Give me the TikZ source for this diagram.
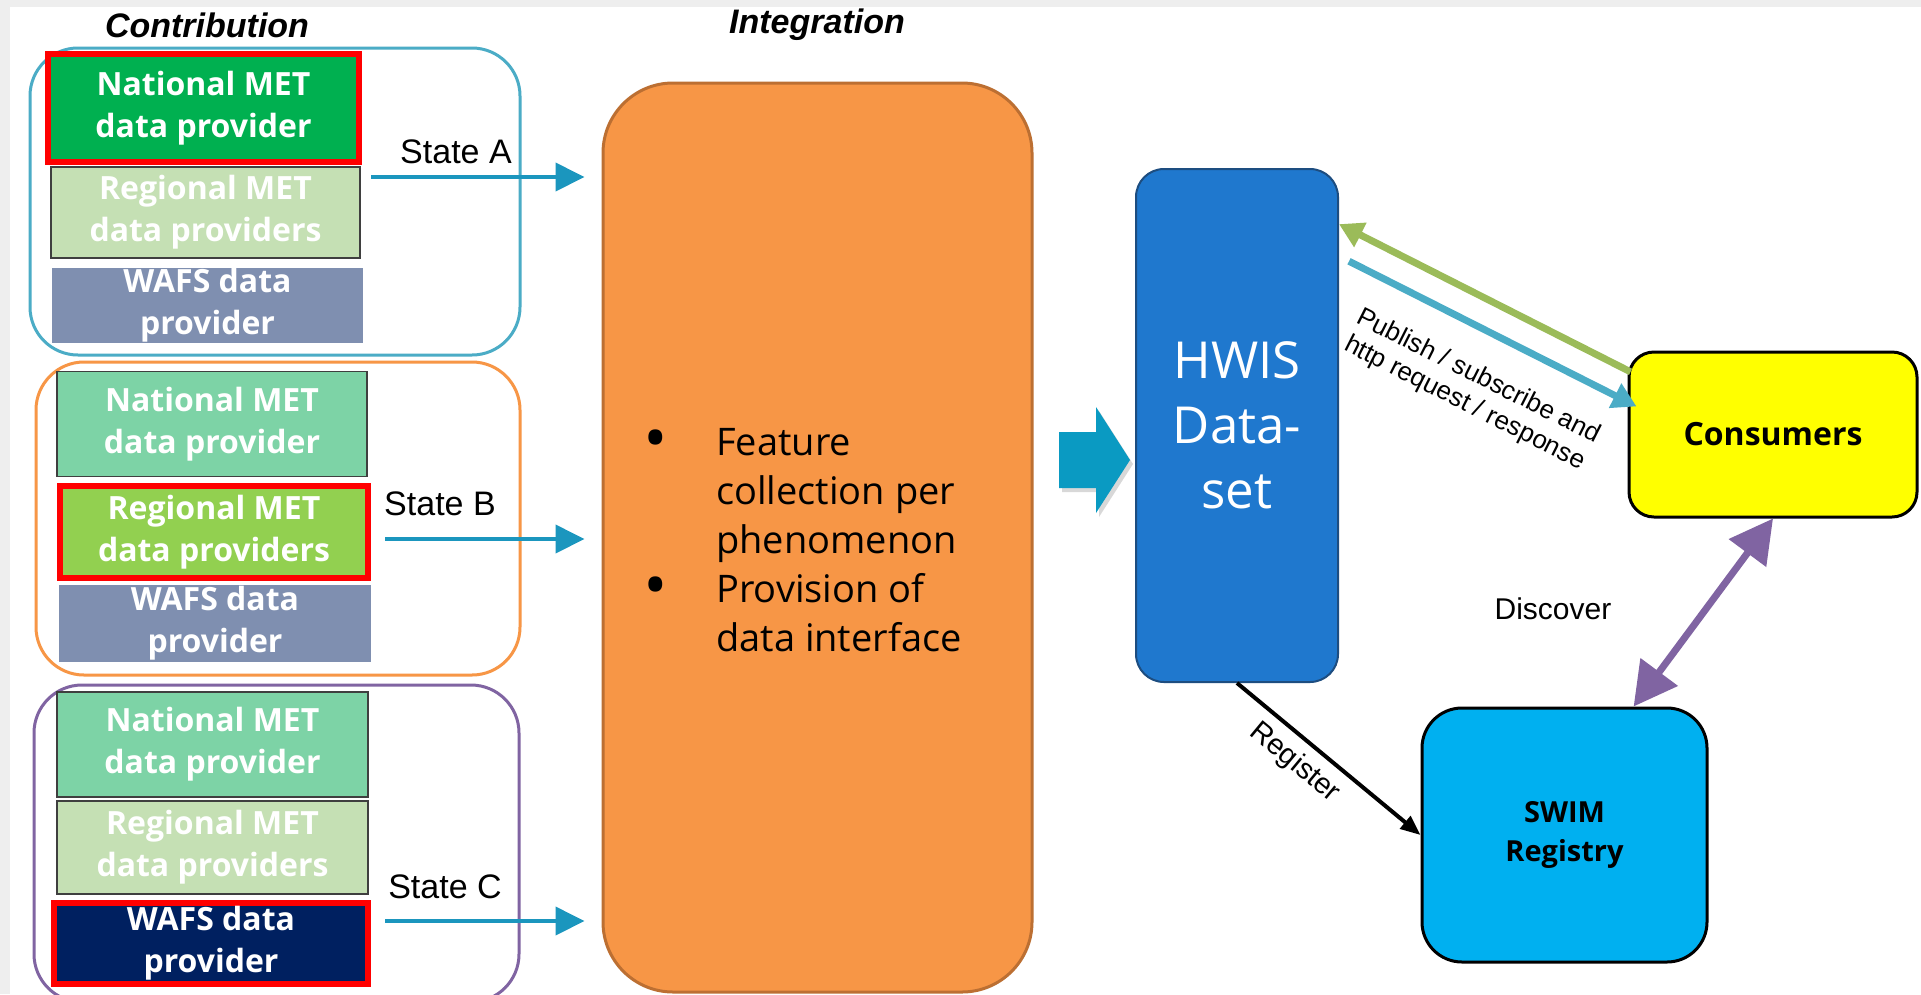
\documentclass[tikz,border=0pt]{standalone}
\usepackage{fontspec}
\setmainfont{Open Sans}
\newfontfamily\arialf{Liberation Sans}
\usetikzlibrary{arrows.meta,calc,shadows}
\definecolor{grpA}{HTML}{4BACC6}
\definecolor{grpB}{HTML}{F79646}
\definecolor{grpC}{HTML}{8064A2}
\definecolor{natdark}{HTML}{00B050}
\definecolor{natlight}{HTML}{7DD3A6}
\definecolor{regdark}{HTML}{92D050}
\definecolor{reglight}{HTML}{C5E0B4}
\definecolor{wafsgray}{HTML}{7F8FB0}
\definecolor{wafsdark}{HTML}{002060}
\definecolor{redframe}{HTML}{FF0000}
\definecolor{statearr}{HTML}{1B96BE}
\definecolor{orangefill}{HTML}{F79646}
\definecolor{orangeline}{HTML}{BC6F32}
\definecolor{blockarr}{HTML}{0A9AC2}
\definecolor{hwisfill}{HTML}{1F78CE}
\definecolor{hwisline}{HTML}{1D4D80}
\definecolor{consfill}{HTML}{FFFF00}
\definecolor{swimfill}{HTML}{00B0F0}
\definecolor{greenarr}{HTML}{9BBB59}
\definecolor{bluearr}{HTML}{4BACC6}
\definecolor{purparr}{HTML}{8064A2}
\definecolor{stripgray}{HTML}{EEEEEE}
\definecolor{thinline}{HTML}{3F3F3F}
\newcommand\provfont{\bfseries\fontsize{32}{42}\selectfont}
\newcommand\labfont{\arialf\fontsize{34}{40}\selectfont}
\newcommand\bul{\makebox[70pt][l]{\bfseries\scalebox{1.3}{•}}}
\begin{document}
\begin{tikzpicture}[x=1pt,y=-1pt,
  grpbox/.style={rectangle, rounded corners=48pt, line width=3pt, inner sep=0pt},
  prov/.style={rectangle, inner sep=0pt, align=center, text=white, font=\provfont},
  thinbox/.style={draw=thinline, line width=1.2pt},
  redbox/.style={draw=redframe, line width=6pt},
  statelab/.style={font=\labfont, inner sep=0pt},
  statearrow/.style={statearr, line width=4pt, -{Triangle[length=29pt,width=28pt]}, shorten >=17pt},
  title/.style={font=\arialf\bfseries\itshape\fontsize{34}{40}\selectfont, inner sep=0pt},
  bigbox/.style={rectangle, inner sep=0pt, align=center}
]
\useasboundingbox (0,0) rectangle (1921,994);
\clip (0,0) rectangle (1921,994);
\fill[white] (0,0) rectangle (1921,994);
\fill[stripgray] (0,0) rectangle (1921,7);
\fill[stripgray] (0,0) rectangle (10,994);

% titles
\node[title] (contrib) at (207,25) {Contribution};
\node[title] (integ) at (817,25) {Integration};

% group boxes
\node[grpbox, draw=grpA, minimum width=490pt, minimum height=307pt] (groupA) at (275,201.5) {};
\node[grpbox, draw=grpB, minimum width=484pt, minimum height=313pt] (groupB) at (278,518.5) {};
\node[grpbox, draw=grpC, minimum width=485pt, minimum height=317pt] (groupC) at (276.5,843.5) {};

% providers, state A
\node[prov, fill=natdark, redbox, minimum width=311pt, minimum height=108pt] (natA) at (203.5,108) {National MET\\data provider};
\node[prov, fill=reglight, thinbox, minimum width=309pt, minimum height=91pt] (regA) at (205.5,212.5) {Regional MET\\data providers};
\node[prov, fill=wafsgray, minimum width=311pt, minimum height=75pt] (wafA) at (207.5,305.5) {WAFS data\\provider};

% providers, state B
\node[prov, fill=natlight, thinbox, minimum width=310pt, minimum height=105pt] (natB) at (212,424) {National MET\\data provider};
\node[prov, fill=regdark, redbox, minimum width=308pt, minimum height=92pt] (regB) at (214,532) {Regional MET\\data providers};
\node[prov, fill=wafsgray, minimum width=312pt, minimum height=77pt] (wafB) at (215,623.5) {WAFS data\\provider};

% providers, state C
\node[prov, fill=natlight, thinbox, minimum width=311pt, minimum height=105pt] (natC) at (212.5,744.5) {National MET\\data provider};
\node[prov, fill=reglight, thinbox, minimum width=311pt, minimum height=93pt] (regC) at (212.5,847.5) {Regional MET\\data providers};
\node[prov, fill=wafsdark, redbox, minimum width=314pt, minimum height=81pt] (wafC) at (211,943.5) {WAFS data\\provider};

% integration box
\node[bigbox, fill=orangefill, draw=orangeline, line width=3pt, rounded corners=70pt,
      minimum width=429pt, minimum height=909pt] (orange) at (817.5,537.5) {};
\node[anchor=west, inner sep=0pt, align=left, font=\fontsize{38}{49}\selectfont] (orangetext) at (646,540)
  {\bul Feature\\\hspace*{70pt}collection per\\\hspace*{70pt}phenomenon\\\bul Provision of\\\hspace*{70pt}data interface};

% state labels and arrows
\node[statelab] (stA) at (456,152) {State A};
\node[statelab] (stB) at (440,504) {State B};
\node[statelab] (stC) at (445,887) {State C};
\coordinate (sa) at (371,177);
\coordinate (sb) at (385,539);
\coordinate (sc) at (385,921);
\draw[statearrow] (sa) -- (sa -| orange.west);
\draw[statearrow] (sb) -- (sb -| orange.west);
\draw[statearrow] (sc) -- (sc -| orange.west);

% block arrow
\path[fill=blockarr, drop shadow={shadow xshift=3pt, shadow yshift=-4pt, opacity=0.3}]
  (1059,432) -- (1096,432) -- (1096,407) -- (1130,460) -- (1096,513) -- (1096,488) -- (1059,488) -- cycle;

% HWIS
\node[bigbox, fill=hwisfill, draw=hwisline, line width=2pt, rounded corners=28pt,
      minimum width=202pt, minimum height=513pt, text=white, font=\fontsize{51}{65}\selectfont] (hwis) at (1237,425.5)
  {HWIS\\Data-\\set};

% Consumers and SWIM
\node[bigbox, fill=consfill, draw=black, line width=3pt, rounded corners=25pt,
      minimum width=288pt, minimum height=165pt, font=\bfseries\fontsize{32}{40}\selectfont] (cons) at (1773,434.5) {Consumers};
\node[bigbox, fill=swimfill, draw=black, line width=3pt, rounded corners=40pt,
      minimum width=285pt, minimum height=254pt, font=\bfseries\fontsize{29}{39}\selectfont] (swim) at (1564.5,835) {SWIM\\Registry};

% connectors
\draw[greenarr, line width=7pt, -{Triangle[length=24pt,width=26pt]}]
  ($(cons.north west)!0.127!(cons.south west)+(3,0)$) -- ($(hwis.north east)!0.109!(hwis.south east)$);
\draw[bluearr, line width=7pt, -{Triangle[length=24pt,width=26pt]}]
  ($(hwis.north east)!0.181!(hwis.south east)+(10,0)$) -- ($(cons.north west)!0.333!(cons.south west)+(9,0)$)
  node[sloped, pos=0.52, below=26pt, align=center, text=black, font=\arialf\fontsize{26}{30}\selectfont] (publab)
  {Publish / subscribe and\\http request / response};
\draw[black, line width=4pt, -{Triangle[length=20pt,width=16pt]}]
  (hwis.south) -- (swim.west)
  node[sloped, pos=0.40, below=6pt, text=black, font=\arialf\fontsize{29}{34}\selectfont] (reglab) {Register};
\draw[purparr, line width=7pt, {Triangle[length=43pt,width=45pt]}-{Triangle[length=43pt,width=45pt]}]
  (cons.south) -- ($(swim.north west)!0.74!(swim.north east)$);
\node[font=\arialf\fontsize{30}{36}\selectfont, inner sep=0pt] (discover) at (1553,609) {Discover};
\end{tikzpicture}
\end{document}
